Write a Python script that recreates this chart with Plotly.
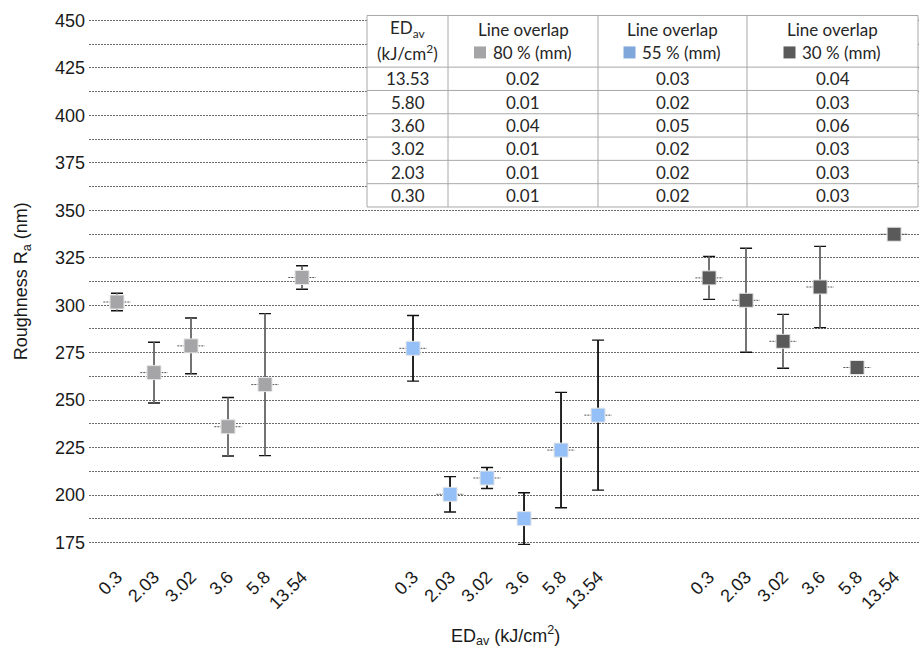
import plotly.graph_objects as go

# ---- data -------------------------------------------------------------
ed_labels = ["0.3", "2.03", "3.02", "3.6", "5.8", "13.54"]

ra_80 = [301.7, 264.5, 278.6, 236.0, 258.2, 314.6]
err_80 = [4.6, 16.0, 14.7, 15.4, 37.4, 6.2]

ra_55 = [277.3, 200.4, 209.0, 187.6, 223.7, 242.1]
err_55 = [17.3, 9.3, 5.5, 13.6, 30.4, 39.5]

ra_30 = [314.4, 302.6, 281.0, 309.6, 267.2, 337.4]
err_30 = [11.3, 27.4, 14.2, 21.4, 0.0, 0.0]

series_names = ["80 %", "55 %", "30 %"]
marker_colors = ["#a5a5a7", "#95c0f7", "#5a5a5a"]
legend_colors = ["#a5a5a7", "#7fa7da", "#5a5a5a"]
stem_colors = ["#7a7a7a", "#1a1a1a", "#7a7a7a"]
cap_color = "#111111"

# table of line overlap (mm) per energy density
table_ed = ["13.53", "5.80", "3.60", "3.02", "2.03", "0.30"]
table_80 = ["0.02", "0.01", "0.04", "0.01", "0.01", "0.01"]
table_55 = ["0.03", "0.02", "0.05", "0.02", "0.02", "0.02"]
table_30 = ["0.04", "0.03", "0.06", "0.03", "0.03", "0.03"]

# ---- geometry ---------------------------------------------------------
W, H = 920, 650
Y_LO, Y_HI = 175, 450
PAD = 1.3                      # keeps the 175 / 450 grid lines off the clip edge
PX_PER_UNIT = 1.9
ML, MR = 89, 0
MT = 20 - PAD * PX_PER_UNIT
MB = H - (20 + (Y_HI - Y_LO) * PX_PER_UNIT) - PAD * PX_PER_UNIT
PW, PH = W - ML - MR, H - MT - MB


def fx(px):
    return (px - ML) / PW


def fy(py):
    return (H - MB - py) / PH


def label(text, px, py, font, angle=0):
    return dict(text=text, x=fx(px), y=fy(py), xref="paper", yref="paper",
                xanchor="center", yanchor="middle", showarrow=False,
                textangle=angle, font=font)


group_start = [0, 8, 16]
series_vals = [ra_80, ra_55, ra_30]
series_errs = [err_80, err_55, err_30]

fig = go.Figure()

tickvals, ticktext = [], []
for g, (vals, errs) in enumerate(zip(series_vals, series_errs)):
    xs = [group_start[g] + i for i in range(len(vals))]
    tickvals += xs
    ticktext += ed_labels

    # short dotted level marks through each point
    sx, sy = [], []
    for x, v in zip(xs, vals):
        sx += [x - 0.37, x + 0.37, None]
        sy += [v, v, None]
    fig.add_trace(go.Scatter(
        x=sx, y=sy, mode="lines", hoverinfo="skip", showlegend=False,
        line=dict(color="#555555", width=1, dash="2px,1px"),
    ))

    # error bars: dark caps underneath, coloured stems on top
    fig.add_trace(go.Scatter(
        x=xs, y=vals, mode="markers", hoverinfo="skip", showlegend=False,
        marker=dict(size=1, opacity=0),
        error_y=dict(type="data", array=errs, visible=True,
                     color=cap_color, thickness=1.4, width=6),
    ))
    fig.add_trace(go.Scatter(
        x=xs, y=vals, mode="markers", name=series_names[g], showlegend=False,
        marker=dict(symbol="square", size=14, color=marker_colors[g],
                    line=dict(color="#e6e6e6", width=1)),
        error_y=dict(type="data", array=errs, visible=True,
                     color=stem_colors[g], thickness=1.6, width=0),
    ))

axis_font = dict(family="Liberation Sans, Arial, sans-serif", size=18, color="#1a1a1a")
grid_col = "#6a6a6a"
fig.update_layout(
    width=W, height=H,
    margin=dict(l=ML, r=MR, t=MT, b=MB),
    paper_bgcolor="white", plot_bgcolor="white",
    font=axis_font,
    xaxis=dict(
        range=[-0.757, 21.70], tickmode="array", tickvals=tickvals, ticktext=ticktext,
        tickangle=-45, showgrid=False, zeroline=False, showline=False,
        ticks="", ticklabelstandoff=17, tickfont=axis_font,
    ),
    yaxis=dict(
        range=[Y_LO - PAD, Y_HI + PAD], tick0=Y_LO, dtick=25, showgrid=True,
        gridcolor=grid_col, griddash="2px,1px", gridwidth=1,
        zeroline=False, showline=False, ticks="", ticklabelstandoff=3,
        tickfont=axis_font,
        minor=dict(tick0=Y_LO, dtick=12.5, showgrid=True, gridcolor=grid_col,
                   griddash="2px,1px", gridwidth=1),
    ),
)

annotations = [
    label("Roughness R<sub>a</sub> (nm)", 22, 281, axis_font, angle=-90),
    label("ED<sub>av</sub> (kJ/cm<sup>2</sup>)", 505, 636, axis_font),
]

# ---- overlap table ----------------------------------------------------
tbl_font = dict(family="Lato, Open Sans, sans-serif", size=17, color="#262626")
col_edges = [367, 448, 598, 747, 918]
tbl_top, head_bot, row_h = 15, 66.7, 23.33
n_rows = len(table_ed)
tbl_bot = head_bot + n_rows * row_h
line_col = "#a8a8a8"

shapes = [dict(type="rect", xref="paper", yref="paper",
               x0=fx(col_edges[0]), x1=fx(col_edges[-1]),
               y0=fy(tbl_bot), y1=fy(tbl_top),
               fillcolor="white", line=dict(color=line_col, width=1), layer="above")]
for ce in col_edges[1:-1]:
    shapes.append(dict(type="line", xref="paper", yref="paper", x0=fx(ce), x1=fx(ce),
                       y0=fy(tbl_bot), y1=fy(tbl_top),
                       line=dict(color=line_col, width=1), layer="above"))
for r in range(n_rows):
    yy = head_bot + r * row_h
    shapes.append(dict(type="line", xref="paper", yref="paper",
                       x0=fx(col_edges[0]), x1=fx(col_edges[-1]), y0=fy(yy), y1=fy(yy),
                       line=dict(color=line_col, width=1), layer="above"))

centers = [(col_edges[i] + col_edges[i + 1]) / 2 for i in range(4)]
line1_y, line2_y = 29, 52

annotations.append(label("ED<sub>av</sub>", centers[0], line1_y, tbl_font))
annotations.append(label("(kJ/cm<sup>2</sup>)", centers[0], line2_y, tbl_font))
for k in range(3):
    cx = centers[k + 1]
    annotations.append(label("Line overlap", cx, line1_y, tbl_font))
    annotations.append(label(series_names[k] + " (mm)", cx + 9, line2_y, tbl_font))
    sq_x = cx - 43
    shapes.append(dict(type="rect", xref="paper", yref="paper",
                       x0=fx(sq_x - 6), x1=fx(sq_x + 6), y0=fy(line2_y + 6),
                       y1=fy(line2_y - 6), fillcolor=legend_colors[k],
                       line=dict(width=0), layer="above"))

for r in range(n_rows):
    cy = head_bot + (r + 0.5) * row_h
    for c, col in enumerate([table_ed, table_80, table_55, table_30]):
        annotations.append(label(col[r], centers[c], cy, tbl_font))

fig.update_layout(shapes=shapes, annotations=annotations)
fig.write_html("out.html")
